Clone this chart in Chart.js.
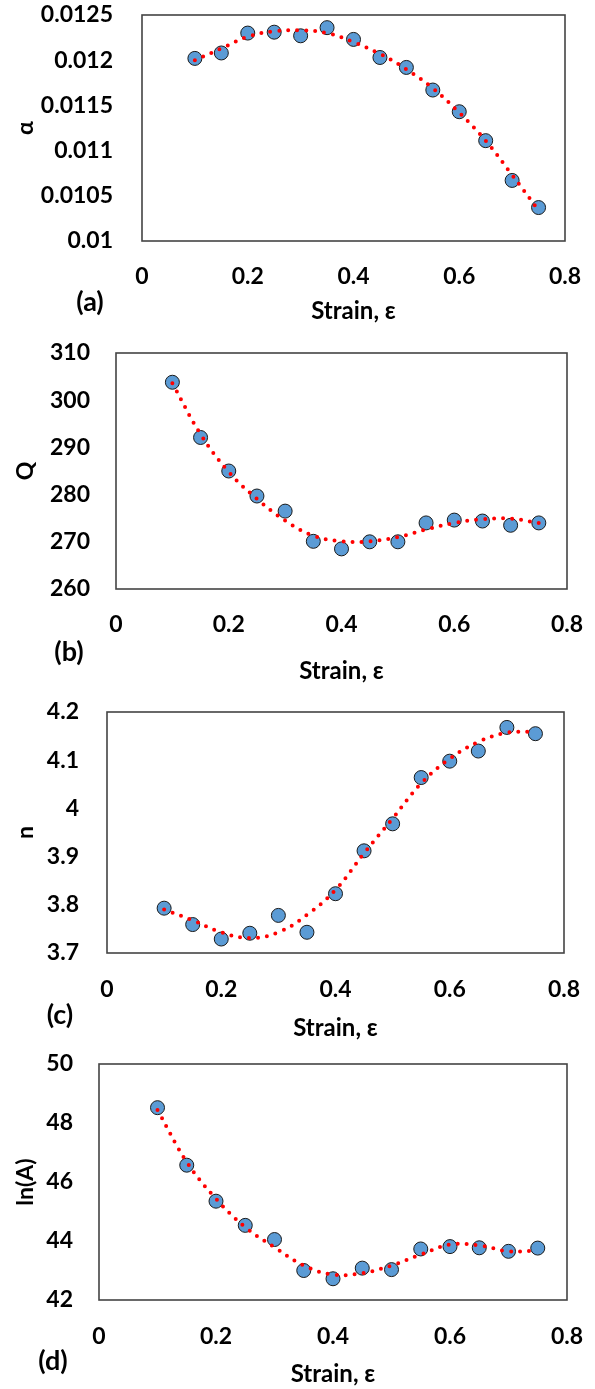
<!DOCTYPE html>
<html>
<head>
<meta charset="utf-8">
<script src="https://cdn.jsdelivr.net/npm/chart.js@4.4.1/dist/chart.umd.min.js"></script>
<style>
    body { margin: 0; background: #fff; }
    #wrap { position: relative; width: 595px; height: 1389px; }
    #wrap canvas { position: absolute; left: 0; }
    .panel-label { position: absolute; font: bold 27px Lato, sans-serif; color: #000; transform: translate(-50%, -50%); }
</style>
</head>
<body>
<div id="wrap">
    <canvas id="chart-a" width="595" height="330" style="top:0px"></canvas>
    <canvas id="chart-b" width="595" height="360" style="top:330px"></canvas>
    <canvas id="chart-c" width="595" height="355" style="top:690px"></canvas>
    <canvas id="chart-d" width="595" height="344" style="top:1045px"></canvas>
    <div class="panel-label" style="left:90px;top:300px">(a)</div>
    <div class="panel-label" style="left:69px;top:650px">(b)</div>
    <div class="panel-label" style="left:60px;top:1013px">(c)</div>
    <div class="panel-label" style="left:53px;top:1359px">(d)</div>
</div>
<script>
// strain values, same for all four panels
const strain = [0.1, 0.15, 0.2, 0.25, 0.3, 0.35, 0.4, 0.45, 0.5, 0.55, 0.6, 0.65, 0.7, 0.75];
const xTicks = [0, 0.2, 0.4, 0.6, 0.8];

// (a) alpha
const alphaVals = [0.01202, 0.01208, 0.01230, 0.01231, 0.01227, 0.01236, 0.01223, 0.01203, 0.01192, 0.01167, 0.01143, 0.01111, 0.01067, 0.01037];
const alphaFit = [0.01200, 0.01213, 0.01226, 0.01232, 0.01233, 0.01230, 0.01220, 0.01207, 0.01190, 0.01169, 0.01142, 0.01111, 0.01073, 0.01034];
const alphaTicks = [0.01, 0.0105, 0.011, 0.0115, 0.012, 0.0125];

// (b) Q
const qVals = [303.8, 292.1, 285.0, 279.7, 276.5, 270.1, 268.5, 270.0, 270.0, 274.0, 274.6, 274.4, 273.5, 274.0];
const qFit = [303.6, 292.8, 284.8, 279.1, 274.5, 271.3, 270.1, 270.1, 271.0, 272.6, 274.0, 274.8, 274.9, 274.0];
const qTicks = [260, 270, 280, 290, 300, 310];

// (c) n
const nVals = [3.793, 3.759, 3.729, 3.741, 3.778, 3.743, 3.823, 3.912, 3.968, 4.064, 4.098, 4.119, 4.168, 4.155];
const nFit = [3.790, 3.768, 3.743, 3.731, 3.743, 3.779, 3.831, 3.907, 3.979, 4.052, 4.103, 4.138, 4.157, 4.159];
const nTicks = [3.7, 3.8, 3.9, 4, 4.1, 4.2];

// (d) ln(A)
const lnAVals = [48.52, 46.57, 45.35, 44.53, 44.05, 43.00, 42.72, 43.08, 43.03, 43.73, 43.81, 43.77, 43.65, 43.76];
const lnAFit = [48.44, 46.68, 45.43, 44.47, 43.79, 43.17, 42.86, 42.91, 43.17, 43.54, 43.88, 43.85, 43.65, 43.68];
const lnATicks = [42, 44, 46, 48, 50];

Chart.defaults.font.family = "Lato, sans-serif";
Chart.defaults.font.weight = "bold";
Chart.defaults.color = "#000";

// frame round the plot area
const frame_plugin = {
    id: 'frame',
    beforeDatasetsDraw (chart) {
        const a = chart.chartArea;
        const ctx = chart.ctx;
        ctx.save();
        ctx.strokeStyle = '#444';
        ctx.lineWidth = 1.6;
        ctx.strokeRect(a.left, a.top, a.right - a.left, a.bottom - a.top);
        ctx.restore();
    }
};

function fmt (v) {
    return String(+Number(v).toFixed(6));
}

// invisible tick marks are used as the gap between axis and labels
// (ticks.padding would also be added to the layout padding)
function hidden_grid (len) {
    return {display: true, drawOnChartArea: false, drawTicks: true, tickLength: len, color: 'rgba(0,0,0,0)'};
}

function make_panel (id, vals, fit, ticks, yTitle, lay) {
    const points = strain.map((x, i) => ({x: x, y: vals[i]}));
    const trend = strain.map((x, i) => ({x: x, y: fit[i]}));
    return new Chart(document.getElementById(id), {
        type: 'scatter',
        data: {
            datasets: [{
                data: trend,
                showLine: true,
                borderColor: '#ff0000',
                borderWidth: 4,
                borderDash: [0, 9],
                borderCapStyle: 'round',
                tension: 0.4,
                pointRadius: 0,
                order: 0
            },
            {
                data: points,
                pointRadius: 7,
                pointBorderWidth: 1,
                backgroundColor: '#5b9bd5',
                borderColor: '#1a1a1a',
                order: 1
            }]
        },
        options: {
            responsive: false,
            animation: false,
            layout: {padding: {top: lay.top, right: lay.right, left: 0, bottom: 0}},
            plugins: {legend: {display: false}, tooltip: {enabled: false}},
            scales: {
                x: {
                    min: xTicks[0], max: xTicks[xTicks.length - 1],
                    afterBuildTicks: (s) => { s.ticks = xTicks.map(v => ({value: v})); },
                    grid: hidden_grid(lay.xGap),
                    border: {display: false},
                    ticks: {font: {size: 23}, padding: 0, callback: fmt},
                    title: {display: true, text: 'Strain, ε', font: {size: 24}, padding: {top: 0, bottom: lay.xTitle}},
                    afterFit: (s) => { s.height = lay.xH; }
                },
                y: {
                    min: ticks[0], max: ticks[ticks.length - 1],
                    afterBuildTicks: (s) => { s.ticks = ticks.map(v => ({value: v})); },
                    grid: hidden_grid(lay.yGap),
                    border: {display: false},
                    ticks: {font: {size: 23}, padding: 0, callback: fmt},
                    title: {display: true, text: yTitle, font: {size: 23}, padding: {top: 12, bottom: 0}},
                    afterFit: (s) => { s.width = lay.yW; }
                }
            }
        },
        plugins: [frame_plugin]
    });
}

make_panel('chart-a', alphaVals, alphaFit, alphaTicks, 'α', {top: 15, right: 30, yW: 142, xH: 89, xGap: 22, xTitle: 4, yGap: 29});
make_panel('chart-b', qVals, qFit, qTicks, 'Q', {top: 23, right: 28, yW: 116, xH: 101, xGap: 22, xTitle: 4, yGap: 26});
make_panel('chart-c', nVals, nFit, nTicks, 'n', {top: 22, right: 31, yW: 107, xH: 92, xGap: 23, xTitle: 2, yGap: 28});
make_panel('chart-d', lnAVals, lnAFit, lnATicks, 'ln(A)', {top: 19, right: 28, yW: 99, xH: 89, xGap: 23, xTitle: 0, yGap: 26});
</script>
</body>
</html>
